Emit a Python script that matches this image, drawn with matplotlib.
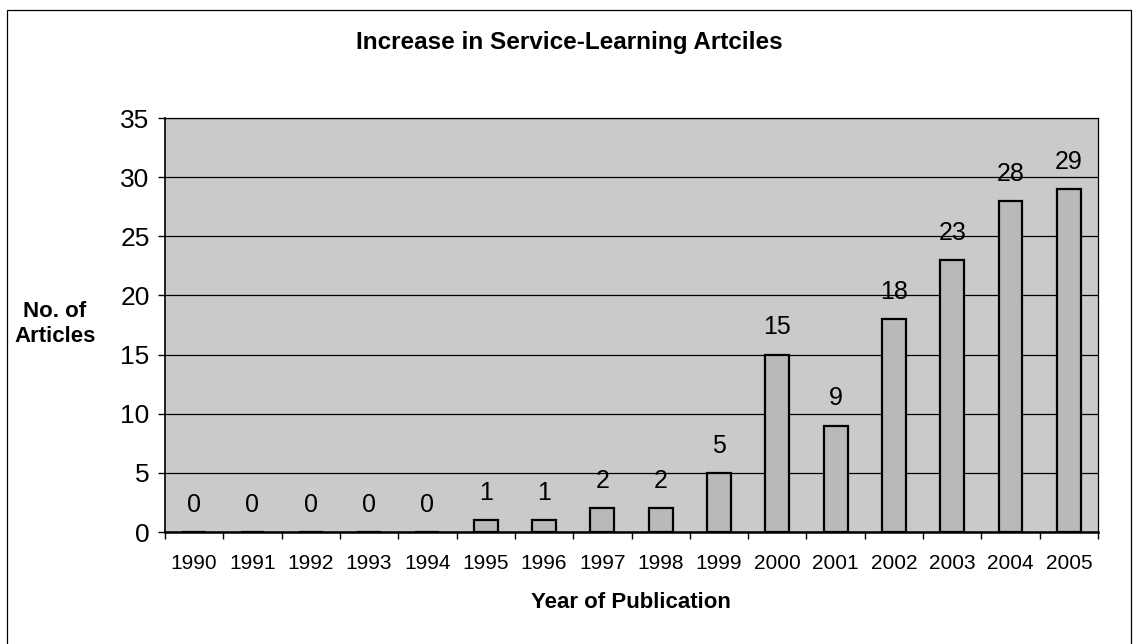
import matplotlib
matplotlib.use("Agg")
import matplotlib.pyplot as plt
from matplotlib.patches import Rectangle

years = ["1990", "1991", "1992", "1993", "1994", "1995", "1996", "1997",
         "1998", "1999", "2000", "2001", "2002", "2003", "2004", "2005"]
articles = [0, 0, 0, 0, 0, 1, 1, 2, 2, 5, 15, 9, 18, 23, 28, 29]
y_ticks = [0, 5, 10, 15, 20, 25, 30, 35]

plt.rcParams['font.family'] = ['Liberation Sans', 'DejaVu Sans']

W, H = 1134, 644
fig = plt.figure(figsize=(W / 100, H / 100), dpi=100)
fig.patch.set_facecolor('white')

# outer chart border
fig.add_artist(Rectangle((7 / W, -0.05), (1131 - 7) / W, 1 - 10 / H + 0.05,
                         transform=fig.transFigure, fill=False,
                         edgecolor='black', linewidth=0.9))

ax = fig.add_axes([165 / W, 1 - 532 / H, (1098 - 165) / W, (532 - 118) / H])
ax.set_facecolor('#cacaca')

x = list(range(len(years)))
bars = ax.bar(x, articles, width=0.41, color='#b9b9b9', edgecolor='black',
              linewidth=1.6, zorder=3)

for xi, v in zip(x, articles):
    ax.annotate(str(v), (xi, v), xytext=(0, 19.5), textcoords='offset points',
                ha='center', va='center', fontsize=18, zorder=4)

ax.set_xlim(-0.5, len(years) - 0.5)
ax.set_ylim(0, 35)
ax.set_yticks(y_ticks)
ax.set_yticklabels([str(t) for t in y_ticks], fontsize=19)
ax.yaxis.grid(True, color='black', linewidth=0.9, zorder=1)
ax.set_axisbelow(True)

ax.set_xticks(x)
ax.set_xticklabels(years, fontsize=15)
ax.set_xticks([i - 0.5 for i in range(len(years) + 1)], minor=True)
ax.tick_params(axis='x', which='major', length=0, pad=16)
ax.tick_params(axis='x', which='minor', length=5, width=1, direction='out')
ax.tick_params(axis='y', length=5, width=1, direction='out', pad=6)

for s in ['left', 'bottom']:
    ax.spines[s].set_color('black')
ax.spines['left'].set_linewidth(1.2)
ax.spines['bottom'].set_linewidth(1.8)
ax.spines['top'].set_linewidth(0.9)
ax.spines['right'].set_linestyle((0, (1, 1)))
ax.spines['right'].set_linewidth(0.9)

fig.text(569 / W, 1 - 42 / H, "Increase in Service-Learning Artciles",
         ha='center', va='center', fontsize=17.5, fontweight='bold')
fig.text(55 / W, 1 - 324 / H, "No. of\nArticles", ha='center', va='center',
         fontsize=16, fontweight='bold', linespacing=1.3)
fig.text(631 / W, 1 - 602 / H, "Year of Publication", ha='center',
         va='center', fontsize=16, fontweight='bold')

fig.savefig('out.png', dpi=100)
